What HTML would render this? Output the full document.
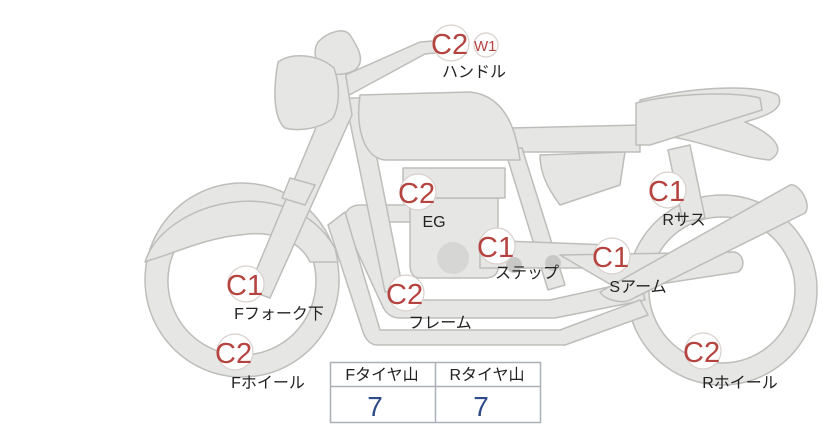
<!DOCTYPE html>
<html><head><meta charset="utf-8"><style>
body{margin:0;background:#fff;width:822px;height:425px;overflow:hidden}
svg{display:block}
.p{fill:#e6e6e4;stroke:#bdbdba;stroke-width:1.5;stroke-linejoin:round}
.b{fill:#fff;stroke:#d8d0cc;stroke-width:1.2}
.c{font-family:"Liberation Sans",sans-serif;font-size:29px;fill:#b5433f}
.l{font-family:"Liberation Sans","Noto Sans CJK JP",sans-serif;font-size:16px;fill:#222;text-anchor:middle}
</style></head><body>
<svg width="822" height="425" viewBox="0 0 822 425">
<!-- rear wheel -->
<path class="p" fill-rule="evenodd" d="M722,195a95,95 0 1,0 0.1,0zM722,217a73,73 0 1,1 -0.1,0z"/>
<!-- front wheel -->
<path class="p" fill-rule="evenodd" d="M242,183a97,97 0 1,0 0.1,0zM242,207a74,74 0 1,1 -0.1,0z"/>
<!-- front fender -->
<path class="p" d="M145,262 C165,200 290,170 335,248 L338,262 L310,262 C300,240 270,230 240,235 C205,238 170,255 150,260Z"/>
<!-- seat back & tail -->
<path class="p" d="M640,100 C700,85 760,85 778,95 C785,108 770,115 745,122 C768,132 790,148 770,160 C740,158 700,140 660,135 L640,135Z"/>
<path class="p" d="M510,128 L640,125 L640,152 L510,152Z"/>
<path class="p" d="M636,103 C680,92 740,92 760,98 L762,110 L650,145 L636,145Z"/>
<path class="p" d="M540,155 L625,152 L620,185 L560,205 C545,185 540,170 540,155Z"/>
<!-- rear shock -->
<path class="p" d="M668,150 L690,145 L705,218 L683,222Z"/>
<!-- rear frame tube -->
<path class="p" d="M505,150 L522,148 L565,285 L548,290Z"/>
<!-- frame loops -->
<path class="p" d="M360,205 L420,205 L420,222 L372,222 L410,300 L550,300 L640,280 L645,300 L555,318 L400,318 C390,318 385,312 382,305 L345,225 C342,212 350,205 360,205Z"/>
<path class="p" d="M345,212 L380,330 L560,330 L640,300 L648,315 L565,345 L378,345 C370,345 366,340 363,332 L328,225Z"/>
<!-- engine -->
<path class="p" d="M410,198 L498,198 L498,268 C498,275 492,278 485,278 L420,278 C413,278 410,272 410,265Z"/>
<path class="p" d="M403,168 L505,168 L505,198 L403,198Z"/>
<circle cx="453" cy="258" r="16" fill="#d6d6d4"/>
<!-- down tube -->
<path class="p" d="M345,98 L365,98 L403,290 L385,292Z"/>
<!-- step bar -->
<path class="p" d="M480,240 L610,245 L612,268 L480,268Z"/>
<circle cx="514" cy="265" r="8" fill="#c8c8c6"/><circle cx="553" cy="263" r="8" fill="#c8c8c6"/>
<!-- swing arm -->
<path class="p" d="M560,255 L735,252 C745,256 745,268 738,272 L620,290 Z"/>
<path class="p" d="M600,292 L790,185 C800,183 812,205 805,213 L630,300 C622,304 605,300 600,292Z"/>
<!-- tank -->
<path class="p" d="M360,95 L470,92 C500,95 515,120 520,160 L385,160 C365,158 355,130 360,95Z"/>
<!-- handlebar -->
<path class="p" d="M300,95 L420,42 L445,40 L445,52 L425,54 L318,112Z"/>
<!-- fork -->
<path class="p" d="M328,70 L345,70 L352,115 L270,298 L248,290 L315,130Z"/>
<path class="p" d="M290,178 L315,185 L305,205 L282,198Z"/>
<!-- headlight bits -->
<path class="p" d="M318,42 C330,30 345,28 350,35 C360,50 365,62 355,70 C345,76 325,76 320,70 C315,60 313,50 318,42Z"/>
<path class="p" d="M278,62 C292,52 318,54 334,68 C340,85 340,105 333,118 C322,128 300,132 285,128 C275,120 272,95 278,62Z"/>
<!-- badges -->
<g>
<circle class="b" cx="451" cy="43" r="18"/><text class="c" x="431" y="54">C2</text>
<circle class="b" cx="486" cy="45" r="12"/><text x="474" y="51" style="font-family:'Liberation Sans',sans-serif;font-size:15px;fill:#b5433f">W1</text>
<circle class="b" cx="418" cy="192" r="18"/><text class="c" x="398" y="203">C2</text>
<circle class="b" cx="497" cy="246" r="18"/><text class="c" x="477" y="257">C1</text>
<circle class="b" cx="246" cy="284" r="18"/><text class="c" x="226" y="295">C1</text>
<circle class="b" cx="235" cy="352" r="18"/><text class="c" x="215" y="363">C2</text>
<circle class="b" cx="406" cy="293" r="18"/><text class="c" x="386" y="304">C2</text>
<circle class="b" cx="668" cy="190" r="18"/><text class="c" x="648" y="201">C1</text>
<circle class="b" cx="612" cy="256" r="18"/><text class="c" x="592" y="267">C1</text>
<circle class="b" cx="703" cy="351" r="18"/><text class="c" x="683" y="362">C2</text>
</g>
<text class="l" x="474" y="77">ハンドル</text>
<text class="l" x="434" y="227">EG</text>
<text class="l" x="527" y="278">ステップ</text>
<text class="l" x="638" y="292">Sアーム</text>
<text class="l" x="684" y="225">Rサス</text>
<text class="l" x="279" y="319">Fフォーク下</text>
<text class="l" x="268" y="388">Fホイール</text>
<text class="l" x="440" y="328">フレーム</text>
<text class="l" x="740" y="388">Rホイール</text>
<!-- table -->
<rect x="330.5" y="362.5" width="210" height="60" fill="#fff" stroke="#aab0b8" stroke-width="1.5"/>
<line x1="330" y1="386.5" x2="540" y2="386.5" stroke="#aab0b8" stroke-width="1.5"/>
<line x1="435.5" y1="362" x2="435.5" y2="423" stroke="#aab0b8" stroke-width="1.5"/>
<text class="l" x="382" y="380">Fタイヤ山</text>
<text class="l" x="487" y="380">Rタイヤ山</text>
<text x="375" y="416" style="font-family:'Liberation Sans',sans-serif;font-size:28px;fill:#2f4b8a;text-anchor:middle">7</text>
<text x="481" y="416" style="font-family:'Liberation Sans',sans-serif;font-size:28px;fill:#2f4b8a;text-anchor:middle">7</text>
</svg>
</body></html>
